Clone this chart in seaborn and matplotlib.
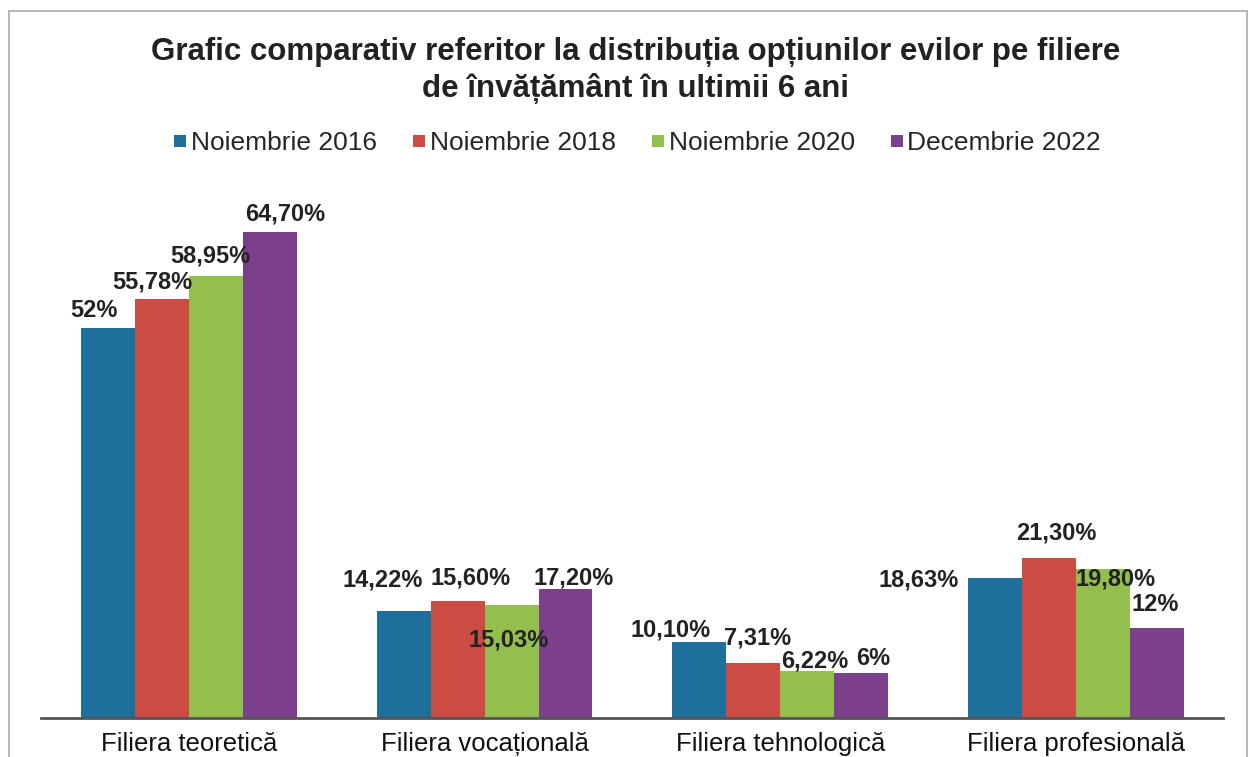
import pandas as pd
import matplotlib
matplotlib.use("Agg")
import matplotlib.pyplot as plt
import seaborn as sns
from matplotlib.patches import Rectangle
from matplotlib.lines import Line2D

sns.set_style("white")
plt.rcParams["font.family"] = ["Liberation Sans", "DejaVu Sans"]

# ==========================================
# Data
# ==========================================

filiere = ["Filiera teoretică", "Filiera vocațională",
           "Filiera tehnologică", "Filiera profesională"]
perioade = ["Noiembrie 2016", "Noiembrie 2018", "Noiembrie 2020", "Decembrie 2022"]

nov_2016 = [52.00, 14.22, 10.10, 18.63]
nov_2018 = [55.78, 15.60, 7.31, 21.30]
nov_2020 = [58.95, 15.03, 6.22, 19.80]
dec_2022 = [64.70, 17.20, 6.00, 12.00]

culori = ["#1f6f9c", "#cc4b42", "#93bf4f", "#7b3f8c"]

rows = []
for perioada, valori in zip(perioade, [nov_2016, nov_2018, nov_2020, dec_2022]):
    for filiera, v in zip(filiere, valori):
        rows.append({"Filiera": filiera, "Perioada": perioada, "Procent": v})
df = pd.DataFrame(rows)

# label nudges (pixels) so labels sit like in the original chart
label_shift = [
    [(-14, 17), (-21, 31), (-29, 12), (-76, -2)],
    [(-10, 17), (13, 23), (4, 25), (8, 25)],
    [(-6, 20), (-3, -35), (8, 10), (13, -10)],
    [(15, 18), (8, 11), (12, 14), (-1, 23)],
]

# ==========================================
# Plot
# ==========================================

fig = plt.figure(figsize=(12.51, 7.57), dpi=100)
ax = fig.add_axes([0.033, 0.0515, 0.945, 0.694])

sns.barplot(data=df, x="Filiera", y="Procent", hue="Perioada",
            palette=culori, width=0.73, linewidth=0, saturation=1,
            legend=False, ax=ax)

ax.set_ylim(0, 70)
ax.set_xlim(-0.5, 3.5)
ax.set_xlabel("")
ax.set_ylabel("")
ax.set_yticks([])
ax.tick_params(axis="x", length=0, pad=10, labelsize=18.5, colors="#111111")

for side in ["left", "right", "top"]:
    ax.spines[side].set_visible(False)
ax.spines["bottom"].set_color("#555555")
ax.spines["bottom"].set_linewidth(2)

# value labels
for i, container in enumerate(ax.containers):
    for j, bar in enumerate(container):
        v = bar.get_height()
        txt = f"{v:.0f}%" if v == int(v) else f"{v:.2f}%".replace(".", ",")
        dx, dy = label_shift[i][j]
        ax.annotate(txt, (bar.get_x() + bar.get_width() / 2, v),
                    xytext=(dx, dy), textcoords="offset pixels",
                    ha="center", va="center", fontsize=17,
                    fontweight="bold", color="#222222")

# title
fig.text(0.508, 0.907,
         "Grafic comparativ referitor la distribuția opțiunilor evilor pe filiere\n"
         "de învățământ în ultimii 6 ani",
         ha="center", va="center", fontsize=22.5, fontweight="bold",
         color="#222222", linespacing=1.25)

# legend
handles = [Line2D([], [], marker="s", linestyle="", markersize=8,
                  markerfacecolor=c, markeredgewidth=0) for c in culori]
fig.legend(handles, perioade, loc="center", bbox_to_anchor=(0.509, 0.811),
           ncol=4, frameon=False, fontsize=19, handletextpad=0.1,
           columnspacing=1.3, handlelength=0.6)

# outer frame of the chart area
fig.patches.append(Rectangle((0.007, -0.02), 0.99, 1.006, transform=fig.transFigure,
                             fill=False, edgecolor="#aaaaaa", linewidth=1.2))

fig.savefig("out.png", dpi=100)
